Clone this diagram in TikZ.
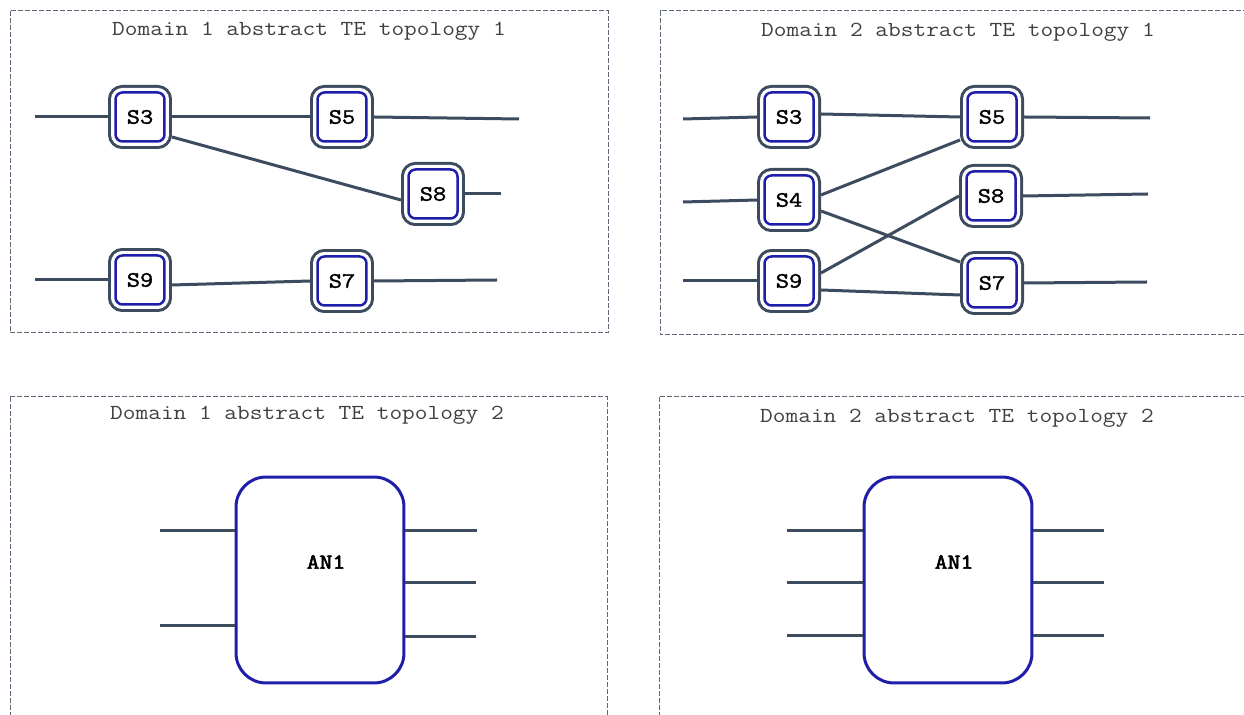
\documentclass[tikz,border=0pt]{standalone}
\usepackage{fontspec}
\newfontfamily\titlefont{Latin Modern Mono}[FakeStretch=1.15]
\newfontfamily\switchfont{Latin Modern Mono}[FakeStretch=1.17, FakeBold=1.6]
\newfontfamily\abstractfont{Latin Modern Mono}[FakeStretch=1.17, FakeBold=2.8]
\usepackage{xcolor}
\usepackage{tikz}
\usetikzlibrary{positioning}
\definecolor{linkgray}{HTML}{3D4B5F}
\definecolor{nodeblue}{HTML}{1E1EAA}
\definecolor{framegray}{HTML}{5F6878}
\definecolor{titlegray}{HTML}{404040}
\tikzstyle{frame} = [draw=framegray, line width=0.02cm, dash pattern=on 0.1cm off 0.04cm]
\tikzstyle{title} = [font=\titlefont\fontsize{12.2}{14}\selectfont, text=titlegray]
\tikzstyle{link} = [draw=linkgray, line width=0.06cm]
\tikzstyle{switch} = [rectangle, rounded corners=0.14cm, minimum size=0.98cm, fill=white, draw=nodeblue, line width=0.05cm, preaction={draw=linkgray, line width=0.3cm}, preaction={draw=white, line width=0.18cm}, outer sep=0.15cm, font=\switchfont\fontsize{12.5}{14}\selectfont]
\tikzstyle{abstract} = [rectangle, rounded corners=0.6cm, draw=nodeblue, line width=0.06cm, minimum width=3.36cm, minimum height=4.12cm, fill=white]
\tikzstyle{nodetext} = [font=\abstractfont\fontsize{12.2}{14}\selectfont]

\begin{document}
\begin{tikzpicture}[x=0.02cm, y=-0.02cm]
        \useasboundingbox (0,0) rectangle (1244,715);

        % dashed areas
        \draw[frame] (10,11) rectangle (608,333);
        \draw[frame] (660,11) rectangle (1260,335);
        \draw[frame] (10,397) rectangle (607,730);
        \draw[frame] (659,397) rectangle (1260,730);

        \node[title] (title11) at (309,31) {Domain 1 abstract TE topology 1};
        \node[title] (title21) at (958,32) {Domain 2 abstract TE topology 1};
        \node[title] (title12) at (307,415) {Domain 1 abstract TE topology 2};
        \node[title] (title22) at (957,418) {Domain 2 abstract TE topology 2};

        % domain 1, topology 1
        \node[switch] (d1s3) at (140,117) {S3};
        \node[switch] (d1s5) at (342,117) {S5};
        \node[switch] (d1s8) at (433,194) {S8};
        \node[switch] (d1s9) at (140,280) {S9};
        \node[switch] (d1s7) at (342,281) {S7};

        \coordinate (d1in3) at (35,117);
        \coordinate (d1in9) at (35,280);
        \coordinate (d1out5) at (519,119);
        \coordinate (d1out8) at (501,194);
        \coordinate (d1out7) at (497,280);

        \draw[link] (d1in3) -- (d1s3.west);
        \draw[link] (d1s3.east) -- (d1s5.west);
        \draw[link] (d1s5.east) -- (d1out5);
        \draw[link] ([yshift=-0.4cm]d1s3.east) -- ([yshift=-0.12cm]d1s8.west);
        \draw[link] (d1s8.east) -- (d1out8);
        \draw[link] (d1in9) -- (d1s9.west);
        \draw[link] ([yshift=-0.1cm]d1s9.east) -- (d1s7.west);
        \draw[link] (d1s7.east) -- (d1out7);

        % domain 2, topology 1
        \node[switch] (d2s3) at (789,117) {S3};
        \node[switch] (d2s4) at (789,200) {S4};
        \node[switch] (d2s9) at (789,281) {S9};
        \node[switch] (d2s5) at (992,117) {S5};
        \node[switch] (d2s8) at (991,196) {S8};
        \node[switch] (d2s7) at (992,283) {S7};

        \coordinate (d2in3) at (683,119);
        \coordinate (d2in4) at (683,202);
        \coordinate (d2in9) at (683,281);
        \coordinate (d2out5) at (1150,118);
        \coordinate (d2out8) at (1148,194);
        \coordinate (d2out7) at (1147,282);

        \draw[link] (d2in3) -- (d2s3.west);
        \draw[link] ([yshift=0.06cm]d2s3.east) -- (d2s5.west);
        \draw[link] (d2s5.east) -- (d2out5);
        \draw[link] (d2in4) -- (d2s4.west);
        \draw[link] ([yshift=0.1cm]d2s4.east) -- ([yshift=-0.46cm]d2s5.west);
        \draw[link] ([yshift=-0.22cm]d2s4.east) -- ([yshift=0.42cm]d2s7.west);
        \draw[link] (d2s8.east) -- (d2out8);
        \draw[link] (d2in9) -- (d2s9.west);
        \draw[link] ([yshift=0.16cm]d2s9.east) -- (d2s8.west);
        \draw[link] ([yshift=-0.18cm]d2s9.east) -- ([yshift=-0.24cm]d2s7.west);
        \draw[link] (d2s7.east) -- (d2out7);

        % domain 1, topology 2
        \node[abstract] (d1an1) at (320,580) {};
        \node[nodetext] (d1an1text) at (326,562) {AN1};

        \coordinate (d1port1) at (160,531);
        \coordinate (d1port2) at (160,626);
        \coordinate (d1port3) at (477,531);
        \coordinate (d1port4) at (476,583);
        \coordinate (d1port5) at (476,637);

        \draw[link] (d1port1) -- (d1port1 -| d1an1.west);
        \draw[link] (d1port2) -- (d1port2 -| d1an1.west);
        \draw[link] (d1port3) -- (d1port3 -| d1an1.east);
        \draw[link] (d1port4) -- (d1port4 -| d1an1.east);
        \draw[link] (d1port5) -- (d1port5 -| d1an1.east);

        % domain 2, topology 2
        \node[abstract] (d2an1) at (948,580) {};
        \node[nodetext] (d2an1text) at (954,562) {AN1};

        \coordinate (d2port1) at (787,531);
        \coordinate (d2port2) at (787,583);
        \coordinate (d2port3) at (787,636);
        \coordinate (d2port4) at (1104,531);
        \coordinate (d2port5) at (1104,583);
        \coordinate (d2port6) at (1104,636);

        \draw[link] (d2port1) -- (d2port1 -| d2an1.west);
        \draw[link] (d2port2) -- (d2port2 -| d2an1.west);
        \draw[link] (d2port3) -- (d2port3 -| d2an1.west);
        \draw[link] (d2port4) -- (d2port4 -| d2an1.east);
        \draw[link] (d2port5) -- (d2port5 -| d2an1.east);
        \draw[link] (d2port6) -- (d2port6 -| d2an1.east);
\end{tikzpicture}
\end{document}
